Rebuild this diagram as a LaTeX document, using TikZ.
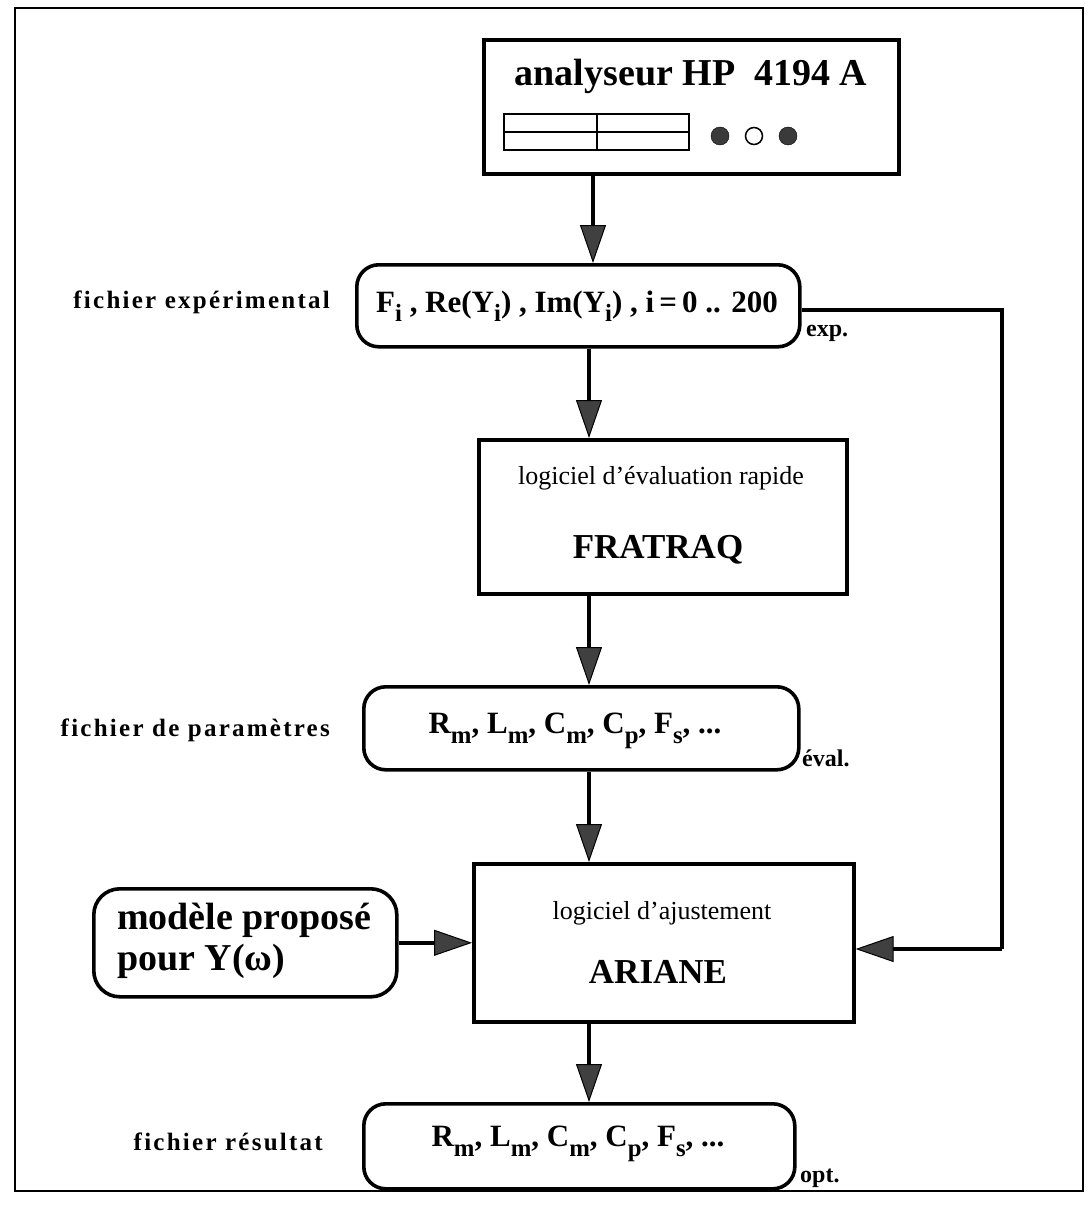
\documentclass[tikz,border=0pt]{standalone}
\usepackage{fontspec}
\usepackage{graphicx}
\setmainfont{Liberation Serif}
\newfontfamily\lblfont[LetterSpace=9]{Liberation Serif}
\usetikzlibrary{arrows.meta,calc}
\definecolor{tipgray}{HTML}{404040}
\definecolor{dotgray}{HTML}{3a3a3a}
\newcommand\lo[1]{\raisebox{-0.3em}{\scalebox{0.8}{#1}}}
\begin{document}
\begin{tikzpicture}[x=1pt,y=-1pt,
  sqbox/.style={draw, line width=3.6pt, anchor=north west, inner sep=0pt},
  rbox/.style={draw, line width=3.6pt, rounded corners=22pt, anchor=north west, inner sep=0pt},
  lbl/.style={font=\lblfont\fontsize{25}{29}\selectfont\bfseries, anchor=east, inner sep=0pt},
  side/.style={font=\fontsize{24}{28}\selectfont\bfseries, anchor=west, inner sep=0pt},
  big/.style={font=\fontsize{31}{36}\selectfont\bfseries, inner sep=0pt},
  small/.style={font=\fontsize{26}{30}\selectfont, inner sep=0pt},
  title/.style={font=\fontsize{35}{40}\selectfont\bfseries, inner sep=0pt},
  conn/.style={line width=3.4pt, -{Triangle[length=38pt,width=26pt,fill=tipgray,line width=1pt]}},
  plain/.style={line width=3.4pt}]
\useasboundingbox (0,0) rectangle (1088,1209);
\draw[line width=2.4pt] (15,8) rectangle (1083,1191);

% analyser
\node[sqbox, minimum width=415pt, minimum height=134pt] (ana) at (482,38) {};
\node[font=\fontsize{38}{44}\selectfont\bfseries, inner sep=0pt] (anat) at (691,76) {analyseur HP\ \ 4194 A};
\node[draw, line width=2pt, minimum width=185pt, minimum height=36pt, anchor=north west, inner sep=0pt] (disp) at (503,113) {};
\draw[line width=2pt] (disp.west) -- (disp.east);
\draw[line width=2pt] (disp.north) -- (disp.south);
\node[circle, draw, fill=dotgray, minimum size=18pt, inner sep=0pt] (d1) at (720,136) {};
\node[circle, draw, line width=1.5pt, minimum size=17pt, inner sep=0pt] (d2) at (754,136) {};
\node[circle, draw, fill=dotgray, minimum size=18pt, inner sep=0pt] (d3) at (788,136) {};

% experimental file
\node[rbox, minimum width=443pt, minimum height=82pt] (expb) at (355,263) {};
\node[big] (expt) at (577,306) {F\lo{i} , Re(Y\lo{i}) , Im(Y\lo{i}) , i\,=\,0 .. 200};
\node[lbl] (l1) at (330,302) {fichier expérimental};
\node[side] (s1) at (806,333) {exp.};

% FRATRAQ
\node[sqbox, minimum width=368pt, minimum height=154pt] (fra) at (477,438) {};
\node[small] (frt1) at (661,478) {logiciel d'évaluation rapide};
\node[title] (frt2) at (658,550) {FRATRAQ};

% parameters
\node[rbox, minimum width=435pt, minimum height=83pt] (par) at (362,685) {};
\node[big] (part) at (575,731) {R\lo{m}, L\lo{m}, C\lo{m}, C\lo{p}, F\lo{s}, ...};
\node[lbl] (l2) at (330,730) {fichier de paramètres};
\node[side] (s2) at (802,758) {éval.};

% ARIANE
\node[sqbox, minimum width=380pt, minimum height=158pt] (ari) at (472,862) {};
\node[small] (art1) at (662,913) {logiciel d'ajustement};
\node[title] (art2) at (658,972) {ARIANE};

% model
\node[rbox, rounded corners=26pt, minimum width=303pt, minimum height=108pt] (mod) at (92,887) {};
\node[font=\fontsize{38}{41}\selectfont\bfseries, align=left, anchor=west, inner sep=0pt] (modt) at (117,941) {modèle proposé\\pour Y(ω)};

% result
\node[rbox, minimum width=431pt, minimum height=85pt] (res) at (362,1102) {};
\node[big] (rest) at (578,1144) {R\lo{m}, L\lo{m}, C\lo{m}, C\lo{p}, F\lo{s}, ...};
\node[lbl] (l3) at (323,1142) {fichier résultat};
\node[side] (s3) at (800,1178) {opt.};

% connectors
\coordinate (colA) at (593,0);
\coordinate (colB) at (589,0);
\draw[conn] (ana.south -| colA) -- (expb.north -| colA);
\draw[conn] (expb.south -| colB) -- (fra.north -| colB);
\draw[conn] (fra.south -| colB) -- (par.north -| colB);
\draw[conn] (par.south -| colB) -- (ari.north -| colB);
\draw[conn] (ari.south -| colB) -- (res.north -| colB);
\draw[conn] (mod.east) -- (ari.west);
\coordinate (ce) at (1002,310);
\coordinate (ca) at (1002,949);
\draw[plain] (expb.east |- ce) -- (ce) -- (ca);
\draw[conn] (ca) -- (ari.east |- ca);
\end{tikzpicture}
\end{document}
